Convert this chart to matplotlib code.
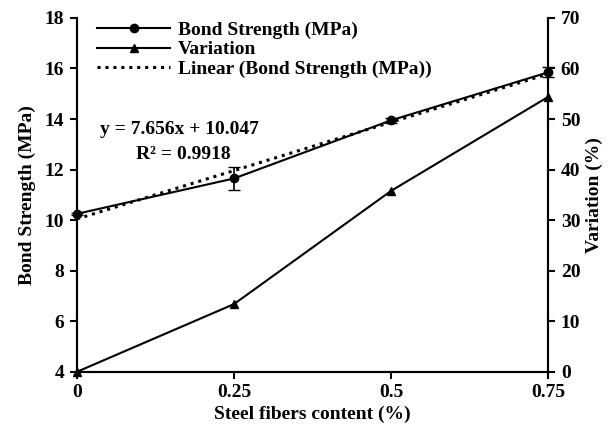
import numpy as np
import matplotlib.pyplot as plt

plt.rcParams['font.family'] = 'Liberation Serif'
plt.rcParams['font.weight'] = 'bold'
plt.rcParams['font.size'] = 14

fiber = [0, 0.25, 0.5, 0.75]
fiber_labels = ['0', '0.25', '0.5', '0.75']
bond = [10.25, 11.65, 13.95, 15.85]
bond_err = [0.05, 0.45, 0.1, 0.2]
variation = [0, 13.4, 35.8, 54.4]
slope, intercept = 7.656, 10.047

fig, ax = plt.subplots(figsize=(6.14, 4.37), dpi=100)
fig.subplots_adjust(left=0.125, right=0.893, top=0.959, bottom=0.149)
ax2 = ax.twinx()

l1 = ax.errorbar(fiber, bond, yerr=bond_err, color='black', lw=1.5,
                 marker='o', ms=6, capsize=4, elinewidth=1.2, clip_on=False)
l2, = ax2.plot(fiber, variation, color='black', lw=1.5, marker='^', ms=6,
               clip_on=False)
xs = np.array([fiber[0], fiber[-1]])
l3, = ax.plot(xs, slope * xs + intercept, color='black', lw=2.2,
              linestyle=(0, (1, 1.6)))

ax.set_xlim(0, 0.75)
ax.set_ylim(4, 18)
ax.set_yticks(range(4, 19, 2))
ax2.set_ylim(0, 70)
ax2.set_yticks(range(0, 71, 10))
ax.set_xticks(fiber)
ax.set_xticklabels(fiber_labels)

for a in (ax, ax2):
    a.spines['top'].set_visible(False)
    for s in a.spines.values():
        s.set_linewidth(1.5)
    a.tick_params(width=1.5, length=5, direction='out', labelsize=14, pad=4)

ax.set_xlabel('Steel fibers content (%)', fontweight='bold', fontsize=14,
              labelpad=3)
ax.set_ylabel('Bond Strength (MPa)', fontweight='bold', fontsize=14,
              labelpad=6)
ax2.set_ylabel('Variation (%)', fontweight='bold', fontsize=14, labelpad=4)

ax.text(0.049, 0.684, 'y = 7.656x + 10.047', transform=ax.transAxes,
        fontsize=14, fontweight='bold', va='center')
ax.text(0.125, 0.613, 'R² = 0.9918', transform=ax.transAxes,
        fontsize=14, fontweight='bold', va='center')

ax.legend([l1[0], l2, l3],
          ['Bond Strength (MPa)', 'Variation', 'Linear (Bond Strength (MPa))'],
          loc='upper left', bbox_to_anchor=(0.005, 1.04), frameon=False,
          handlelength=3.8, labelspacing=0.1, handletextpad=0.4,
          prop={'weight': 'bold', 'size': 14})

fig.savefig('out.png', dpi=100)
